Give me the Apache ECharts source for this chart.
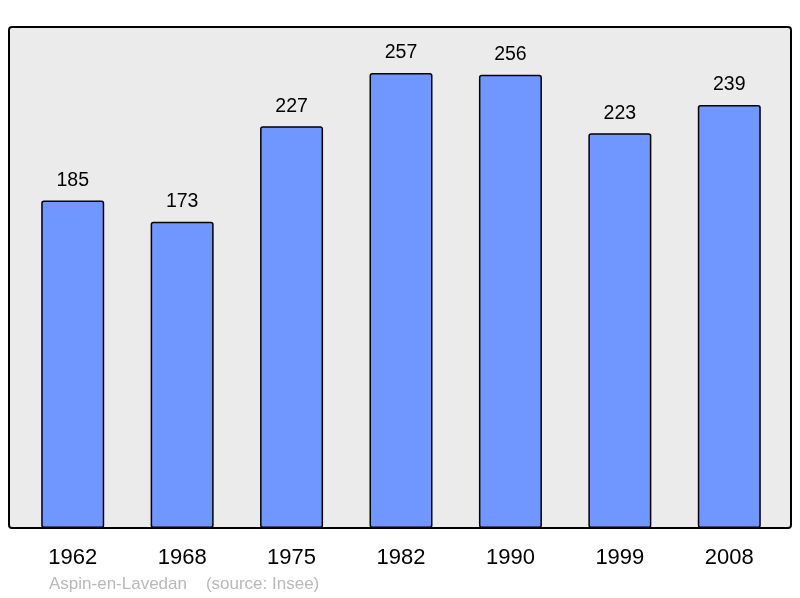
<!DOCTYPE html>
<html>
<head>
<meta charset="utf-8">
<script src="https://cdn.jsdelivr.net/npm/echarts@6/dist/echarts.min.js"></script>
<style>
  html, body { margin: 0; padding: 0; background: #fff; }
  #chart { width: 800px; height: 598px; }
</style>
</head>
<body>
<div id="chart"></div>
<script>
// 年・人口
const years = ['1962', '1968', '1975', '1982', '1990', '1999', '2008']
const population = [185, 173, 227, 257, 256, 223, 239]
const footerText = 'Aspin-en-Lavedan    (source: Insee)'

const chart = echarts.init(document.getElementById('chart'))

const option = {
  animation: false,
  graphic: [
    {
      type: 'rect',
      z: -10,
      shape: { x: 9, y: 27, width: 782, height: 501, r: 3 },
      style: { fill: '#ebebeb', stroke: '#000', lineWidth: 2 }
    },
    {
      type: 'text',
      left: 49,
      top: 576,
      style: {
        text: footerText,
        fill: '#b8b8b8',
        font: '17px "Liberation Sans", Arial, sans-serif'
      }
    }
  ],
  grid: { left: 18, right: 16, top: 27, bottom: 70 },
  xAxis: {
    type: 'category',
    data: years,
    axisLine: { show: false },
    axisTick: { show: false },
    axisLabel: {
      color: '#000',
      fontSize: 22,
      margin: 19,
      fontFamily: '"Liberation Sans", Arial, sans-serif'
    }
  },
  yAxis: {
    type: 'value',
    min: 0,
    max: 283,
    show: false,
    splitLine: { show: false }
  },
  series: [
    {
      type: 'bar',
      data: population,
      barWidth: 63,
      itemStyle: {
        color: '#7096ff',
        borderColor: '#000',
        borderWidth: 1.5,
        borderRadius: 2
      },
      label: {
        show: true,
        position: 'top',
        distance: 10,
        color: '#000',
        fontSize: 19.5,
        fontFamily: '"Liberation Sans", Arial, sans-serif'
      }
    }
  ]
}

chart.setOption(option)
</script>
</body>
</html>
